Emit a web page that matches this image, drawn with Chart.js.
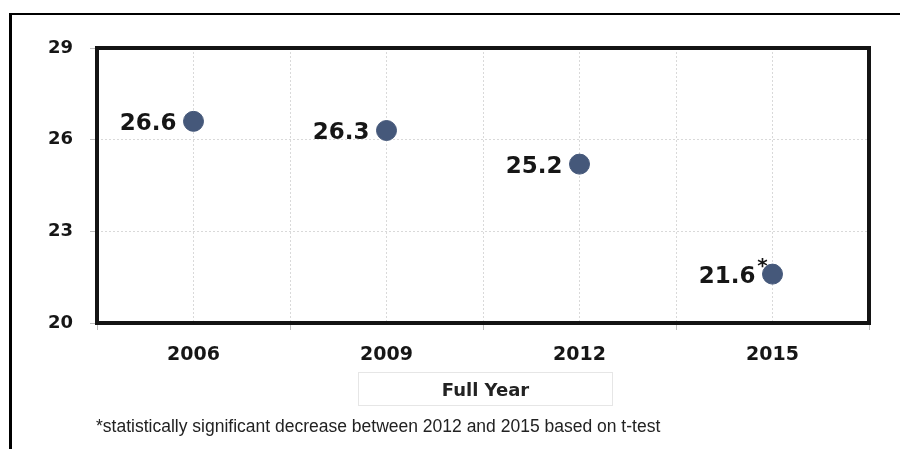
<!DOCTYPE html>
<html>
<head>
<meta charset="utf-8">
<script src="https://cdn.jsdelivr.net/npm/chart.js@4"></script>
<style>
  html, body { margin: 0; padding: 0; background: #fff; }
  #wrap { position: relative; width: 900px; height: 449px; overflow: hidden; }
  #frame { position: absolute; left: 9px; top: 13px; right: -10px; bottom: -10px;
           border-left: 3px solid #000; border-top: 2px solid #000; }
  #chart { position: absolute; left: 0; top: 0; }
  #xtitle { position: absolute; left: 358px; top: 372px; width: 255px; height: 34px;
            box-sizing: border-box; border: 1px solid #e6e6e6;
            font: bold 18px "DejaVu Sans", sans-serif; color: #222;
            display: flex; align-items: center; justify-content: center; }
  #note { position: absolute; left: 96px; top: 416px;
          font: 17.5px "Liberation Sans", Arial, sans-serif; color: #222; white-space: nowrap; }
</style>
</head>
<body>
<div id="wrap">
  <div id="frame"></div>
  <canvas id="chart" width="900" height="449"></canvas>
  <div id="xtitle">Full Year</div>
  <div id="note">*statistically significant decrease between 2012 and 2015 based on t-test</div>
</div>
<script>
// data
const years   = [2006, 2009, 2012, 2015];
const values  = [26.6, 26.3, 25.2, 21.6];
const marks   = ['', '', '', '*'];
const yTicks  = [20, 23, 26, 29];

const POINT_COLOR = '#45587a';
const TEXT_COLOR  = '#161616';

// ─── Helpers ──────────────────────────────────────────────────────────────────
// grid lines at each year and half-way between years
function _xGridTicks() {
  const step = (years[1] - years[0]) / 2;
  const out = [];
  years.forEach(y => { out.push(y - step); out.push(y); });
  out.push(years[years.length - 1] + step);
  return out;
}

const plotFrame = {
  id: 'plotFrame',
  beforeDatasetsDraw(chart) {
    const { ctx, chartArea: a } = chart;
    ctx.save();
    ctx.lineWidth = 4;
    ctx.strokeStyle = '#141414';
    ctx.strokeRect(a.left, a.top, a.right - a.left, a.bottom - a.top);
    ctx.restore();
  }
};

const pointLabels = {
  id: 'pointLabels',
  afterDatasetsDraw(chart) {
    const { ctx } = chart;
    const meta = chart.getDatasetMeta(0);
    ctx.save();
    ctx.fillStyle = TEXT_COLOR;
    meta.data.forEach((pt, i) => {
      ctx.font = 'bold 23px "DejaVu Sans", sans-serif';
      ctx.textAlign = 'right';
      ctx.textBaseline = 'middle';
      ctx.fillText(values[i].toFixed(1), pt.x - 17, pt.y + 3);
      if (marks[i]) {
        ctx.font = 'bold 20px "DejaVu Sans", sans-serif';
        ctx.textAlign = 'center';
        ctx.textBaseline = 'top';
        ctx.fillText(marks[i], pt.x - 10, pt.y - 17);
      }
    });
    ctx.restore();
  }
};

const gridX = _xGridTicks();

new Chart(document.getElementById('chart'), {
  type: 'scatter',
  data: {
    datasets: [{
      data: years.map((y, i) => ({ x: y, y: values[i] })),
      backgroundColor: POINT_COLOR,
      borderColor: POINT_COLOR,
      pointRadius: 10,
      pointHoverRadius: 10,
      showLine: false,
    }]
  },
  options: {
    responsive: false,
    animation: false,
    layout: { padding: { left: 0, top: 48, right: 31, bottom: 0 } },
    plugins: { legend: { display: false }, tooltip: { enabled: false } },
    scales: {
      x: {
        type: 'linear',
        min: gridX[0],
        max: gridX[gridX.length - 1],
        afterBuildTicks: s => { s.ticks = gridX.map(v => ({ value: v })); },
        afterFit: s => { s.height = 126; },
        border: { display: false, dash: [2, 2] },
        grid: {
          color: '#d9d9d9',
          lineWidth: 1,
          tickLength: 7,
          tickColor: c => years.includes(c.tick && c.tick.value) ? 'rgba(0,0,0,0)' : '#bdbdbd',
        },
        ticks: {
          autoSkip: false,
          maxRotation: 0,
          padding: 14,
          color: TEXT_COLOR,
          font: { family: 'DejaVu Sans', size: 19, weight: 'bold' },
          callback: v => years.includes(v) ? String(v) : '',
        }
      },
      y: {
        min: yTicks[0],
        max: yTicks[yTicks.length - 1],
        afterBuildTicks: s => { s.ticks = yTicks.map(v => ({ value: v })); },
        afterFit: s => { s.width = 97; },
        border: { display: false, dash: [2, 2] },
        grid: { color: '#d9d9d9', lineWidth: 1, tickLength: 7, tickColor: '#bdbdbd' },
        ticks: {
          padding: 17,
          color: TEXT_COLOR,
          font: { family: 'DejaVu Sans', size: 18, weight: 'bold' },
        }
      }
    }
  },
  plugins: [plotFrame, pointLabels]
});
</script>
</body>
</html>
